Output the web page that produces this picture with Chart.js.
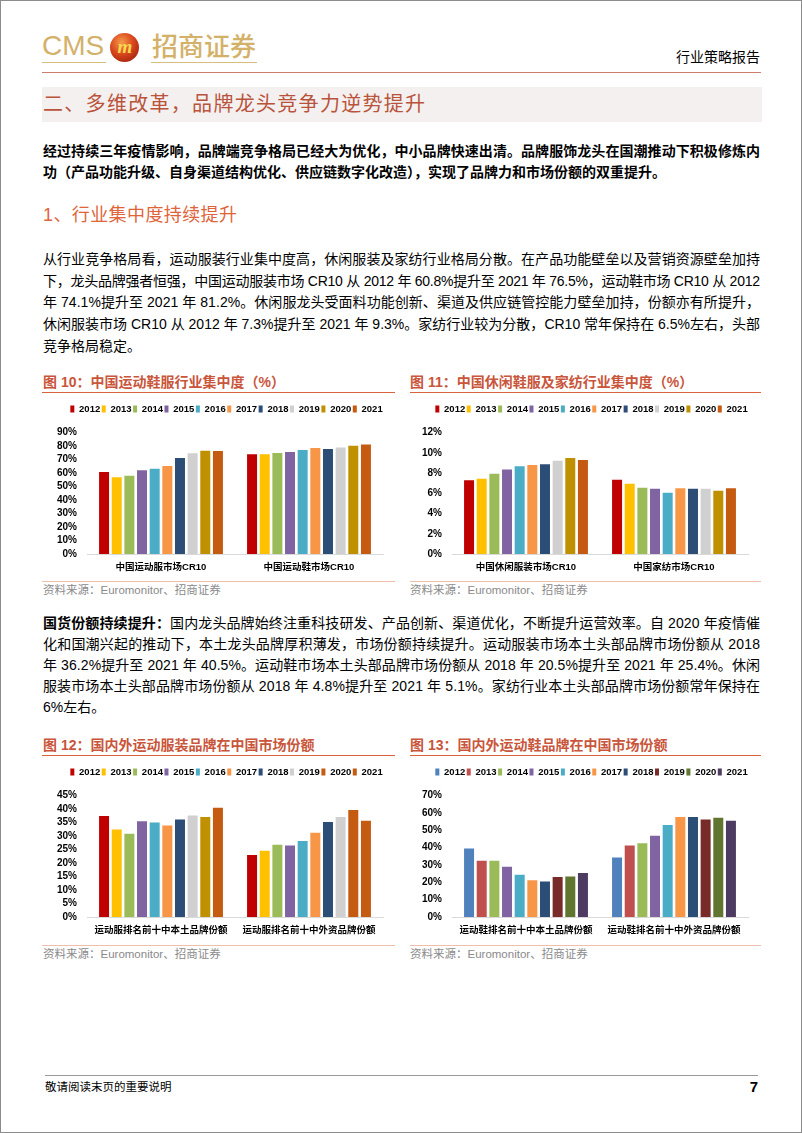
<!DOCTYPE html>
<html lang="zh-CN">
<head>
<meta charset="utf-8">
<title>行业策略报告</title>
<script src="https://cdn.jsdelivr.net/npm/chart.js@4.4.1/dist/chart.umd.min.js"></script>
<style>
*{box-sizing:border-box;}
html,body{margin:0;padding:0;background:#fff;}
body{width:802px;height:1133px;position:relative;overflow:hidden;font-family:"Liberation Sans","Noto Sans CJK SC",sans-serif;color:#000;}
.frame{position:absolute;left:0;top:0;width:802px;height:1133px;border:1px solid #8c8c8c;}
.t{position:absolute;white-space:nowrap;line-height:20px;}
.jl{position:absolute;left:43px;white-space:nowrap;font-size:14px;line-height:20px;}
.b{font-weight:bold;}
.hr{position:absolute;height:0;}
.ct{position:absolute;white-space:nowrap;font-size:14px;line-height:20px;font-weight:bold;color:#c9553a;}
.src{position:absolute;white-space:nowrap;font-size:11.5px;line-height:16px;color:#8a8a8a;}
canvas{position:absolute;}
#icon{position:absolute;left:110px;top:33px;width:29px;height:29px;border-radius:50%;
  background:radial-gradient(circle at 40% 32%,#f59a4a 0%,#d8461d 45%,#a8260f 80%,#7a1a0b 100%);
  color:#f8d84e;font:italic bold 19px/27px "Liberation Serif",serif;text-align:center;letter-spacing:-1px;}
</style>
</head>
<body>
<div class="frame"></div>

<!-- header -->
<div class="t" style="left:42px;top:32px;font-size:28px;line-height:28px;color:#d3b169;">CMS</div>
<div id="icon">m</div>
<div class="t" style="left:152px;top:31px;font-size:26px;line-height:32px;color:#d3b169;font-weight:500;">招商证券</div>
<div class="hr" style="left:42px;top:62px;width:64px;border-top:1.5px solid #d8bd80"></div>
<div class="hr" style="left:151px;top:62px;width:106px;border-top:1.5px solid #d8bd80"></div>
<div class="t" style="left:676px;top:47px;font-size:14px;">行业策略报告</div>
<div class="hr" style="left:42px;top:71.5px;width:719px;border-top:1px solid #cf7d6e"></div>

<!-- section band -->
<div style="position:absolute;left:42px;top:87px;width:720px;height:35px;background:#f4f0ef;"></div>
<div class="t" style="left:43px;top:88px;font-size:20px;line-height:32px;letter-spacing:1.3px;color:#b9533b;">二、多维改革，品牌龙头竞争力逆势提升</div>

<!-- paragraph 1 -->
<div class="jl b fit" style="top:141px;"><span>经过持续三年疫情影响，品牌端竞争格局已经大为优化，中小品牌快速出清。品牌服饰龙头在国潮推动下积极修炼内</span></div>
<div class="jl b" style="top:162px;"><span>功（产品功能升级、自身渠道结构优化、供应链数字化改造），实现了品牌力和市场份额的双重提升。</span></div>

<div class="t" style="left:43px;top:205px;font-size:18px;letter-spacing:0.4px;color:#e0643a;">1、行业集中度持续提升</div>

<!-- paragraph 2 -->
<div class="jl fit" style="top:249px;"><span>从行业竞争格局看，运动服装行业集中度高，休闲服装及家纺行业格局分散。在产品功能壁垒以及营销资源壁垒加持</span></div>
<div class="jl fit" style="top:270.7px;"><span>下，龙头品牌强者恒强，中国运动服装市场 CR10 从 2012 年 60.8%提升至 2021 年 76.5%，运动鞋市场 CR10 从 2012</span></div>
<div class="jl fit" style="top:292.4px;"><span>年 74.1%提升至 2021 年 81.2%。休闲服龙头受面料功能创新、渠道及供应链管控能力壁垒加持，份额亦有所提升，</span></div>
<div class="jl fit" style="top:314.1px;"><span>休闲服装市场 CR10 从 2012 年 7.3%提升至 2021 年 9.3%。家纺行业较为分散，CR10 常年保持在 6.5%左右，头部</span></div>
<div class="jl" style="top:335.8px;"><span>竞争格局稳定。</span></div>

<!-- figure 10 / 11 titles -->
<div class="ct" style="left:43px;top:372px;">图 10：中国运动鞋服行业集中度（%）</div>
<div class="hr" style="left:42px;top:392px;width:353px;border-top:1px solid #d9623f"></div>
<div class="ct" style="left:410px;top:372px;">图 11：中国休闲鞋服及家纺行业集中度（%）</div>
<div class="hr" style="left:410px;top:392px;width:351px;border-top:1px solid #d9623f"></div>

<canvas id="c10" width="358" height="182" style="left:42px;top:398px;"></canvas>
<canvas id="c11" width="358" height="182" style="left:407px;top:398px;"></canvas>

<div class="hr" style="left:42px;top:581px;width:353px;border-top:1.5px solid #efbfae"></div>
<div class="hr" style="left:410px;top:581px;width:351px;border-top:1.5px solid #efbfae"></div>
<div class="src" style="left:43px;top:582px;">资料来源：Euromonitor、招商证券</div>
<div class="src" style="left:410px;top:582px;">资料来源：Euromonitor、招商证券</div>

<!-- paragraph 3 -->
<div class="jl fit" style="top:613px;"><span><span class="b">国货份额持续提升：</span>国内龙头品牌始终注重科技研发、产品创新、渠道优化，不断提升运营效率。自 2020 年疫情催</span></div>
<div class="jl fit" style="top:634px;"><span>化和国潮兴起的推动下，本土龙头品牌厚积薄发，市场份额持续提升。运动服装市场本土头部品牌市场份额从 2018</span></div>
<div class="jl fit" style="top:655px;"><span>年 36.2%提升至 2021 年 40.5%。运动鞋市场本土头部品牌市场份额从 2018 年 20.5%提升至 2021 年 25.4%。休闲</span></div>
<div class="jl fit" style="top:676px;"><span>服装市场本土头部品牌市场份额从 2018 年 4.8%提升至 2021 年 5.1%。家纺行业本土头部品牌市场份额常年保持在</span></div>
<div class="jl" style="top:697px;"><span>6%左右。</span></div>

<!-- figure 12 / 13 titles -->
<div class="ct" style="left:43px;top:735px;">图 12：国内外运动服装品牌在中国市场份额</div>
<div class="hr" style="left:42px;top:755px;width:353px;border-top:1px solid #d9623f"></div>
<div class="ct" style="left:410px;top:735px;">图 13：国内外运动鞋品牌在中国市场份额</div>
<div class="hr" style="left:410px;top:755px;width:351px;border-top:1px solid #d9623f"></div>

<canvas id="c12" width="358" height="182" style="left:42px;top:761.3px;"></canvas>
<canvas id="c13" width="358" height="182" style="left:407px;top:761.3px;"></canvas>

<div class="hr" style="left:42px;top:945px;width:353px;border-top:1.5px solid #efbfae"></div>
<div class="hr" style="left:410px;top:945px;width:351px;border-top:1.5px solid #efbfae"></div>
<div class="src" style="left:43px;top:946px;">资料来源：Euromonitor、招商证券</div>
<div class="src" style="left:410px;top:946px;">资料来源：Euromonitor、招商证券</div>

<!-- footer -->
<div class="hr" style="left:45px;top:1075px;width:713px;border-top:1px solid #9a9a9a"></div>
<div class="t" style="left:45px;top:1077px;font-size:11.5px;">敬请阅读末页的重要说明</div>
<div class="t" style="left:740px;top:1077px;width:18px;text-align:right;font-size:15px;font-weight:bold;">7</div>

<script>
// ---------- data ----------
const years = ['2012','2013','2014','2015','2016','2017','2018','2019','2020','2021'];

const fig10Categories = ['中国运动服市场CR10','中国运动鞋市场CR10'];
const fig10Apparel  = [60.8,57.0,58.0,62.1,63.3,65.3,71.2,74.7,76.7,76.5];
const fig10Footwear = [74.1,74.0,74.9,75.7,77.2,78.6,77.9,79.1,80.4,81.2];

const fig11Categories = ['中国休闲服装市场CR10','中国家纺市场CR10'];
const fig11Casual      = [7.3,7.45,7.95,8.37,8.67,8.8,8.87,9.23,9.5,9.3];
const fig11HomeTextile = [7.35,6.96,6.56,6.46,6.07,6.5,6.46,6.46,6.26,6.5];

const fig12Categories = ['运动服排名前十中本土品牌份额','运动服排名前十中外资品牌份额'];
const fig12Domestic = [37.5,32.5,30.9,35.5,35.1,33.9,36.2,37.7,37.1,40.5];
const fig12Foreign  = [23.0,24.6,26.8,26.5,28.2,31.3,35.2,37.1,39.7,35.7];

const fig13Categories = ['运动鞋排名前十中本土品牌份额','运动鞋排名前十中外资品牌份额'];
const fig13Domestic = [39.6,32.5,32.5,29.0,24.4,21.2,20.5,23.1,23.3,25.4];
const fig13Foreign  = [34.4,41.3,42.5,46.9,53.1,57.7,57.7,56.2,57.3,55.6];

// ---------- styles ----------
const paletteA = ['#C00000','#FFC000','#9BBB59','#8064A2','#4BACC6','#F79646','#2C4D75','#D0D0D0','#BF9000','#C55A11'];
const paletteA12 = ['#C00000','#FFC000','#9BBB59','#8064A2','#4BACC6','#F79646','#2C4D75','#D0D0D0','#C55A11','#C55A11'];
const paletteB = ['#4F81BD','#C0504D','#9BBB59','#8064A2','#4BACC6','#F79646','#2C4D75','#772C2A','#5F7530','#4D3B62'];
const FONT = '"Liberation Sans","Noto Sans CJK SC",sans-serif';

// justify text lines to the column width
document.querySelectorAll('.fit').forEach(el => {
  const span = el.firstElementChild;
  const w = span.getBoundingClientRect().width;
  const n = [...span.textContent].length;
  if (n > 1) span.style.letterSpacing = ((717 - w) / (n - 1)) + 'px';
});

const legendShift = {
  id: 'legendShift',
  afterLayout(chart, args, opts) {
    const l = chart.legend;
    if (l && opts && opts.dx) { l.left += opts.dx; l.right += opts.dx; }
  }
};

function makeChart(id, cats, s1, s2, legendColors, barColors, yMax, yStep) {
  const datasets = years.map((y, i) => ({
    label: y,
    data: [s1[i], s2[i]],
    backgroundColor: barColors[i],
    borderWidth: 0,
    categoryPercentage: 0.855,
    barPercentage: 0.79
  }));
  return new Chart(document.getElementById(id), {
    type: 'bar',
    data: { labels: cats, datasets },
    options: {
      responsive: false,
      animation: false,
      devicePixelRatio: 1,
      layout: { padding: { top: 4.75, left: 0, right: 17, bottom: 0 } },
      plugins: {
        legend: {
          position: 'top',
          weight: 1000,
          labels: {
            boxWidth: 4, boxHeight: 7, padding: 1.5, color: '#000',
            font: { family: FONT, size: 9.5, weight: 'bold' },
            generateLabels(chart) {
              return chart.data.datasets.map((d, i) => ({
                text: d.label, fillStyle: legendColors[i], strokeStyle: legendColors[i],
                lineWidth: 0, hidden: false, datasetIndex: i
              }));
            }
          }
        },
        title: { display: true, text: '', weight: 500, padding: { top: 7.95, bottom: 0 }, font: { size: 1, lineHeight: 1 } },
        tooltip: { enabled: false },
        legendShift: { dx: 14 }
      },
      scales: {
        x: {
          grid: { display: false, drawTicks: false },
          border: { display: true, color: '#D9D9D9', width: 1 },
          ticks: { padding: 7.3, color: '#000', font: { family: FONT, size: 9.5, weight: 'bold' } }
        },
        y: {
          min: 0, max: yMax,
          grid: { display: false, drawTicks: false },
          border: { display: false },
          ticks: { stepSize: yStep, autoSkip: false, padding: 10, color: '#000',
                   font: { family: FONT, size: 10, weight: 'bold' },
                   callback: v => v + '%' },
          afterFit(scale) { scale.width = 45; }
        }
      }
    },
    plugins: [legendShift]
  });
}

makeChart('c10', fig10Categories, fig10Apparel, fig10Footwear, paletteA, paletteA, 90, 10);
makeChart('c11', fig11Categories, fig11Casual, fig11HomeTextile, paletteA, paletteA, 12, 2);
const fig12BarColors = paletteA12.map((c, i) => i === 8 ? ['#BF9000', '#C55A11'] : c);
makeChart('c12', fig12Categories, fig12Domestic, fig12Foreign, paletteA12, fig12BarColors, 45, 5);
makeChart('c13', fig13Categories, fig13Domestic, fig13Foreign, paletteB, paletteB, 70, 10);
</script>
</body>
</html>
